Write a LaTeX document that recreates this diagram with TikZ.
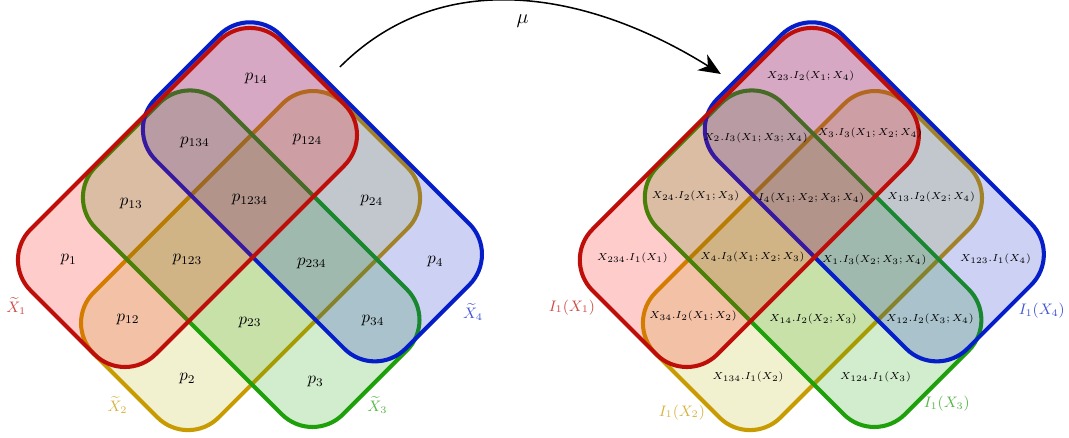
\documentclass[tikz,border=0pt]{standalone}
\usepackage{amsmath,amssymb}
\usetikzlibrary{positioning, arrows.meta}

\definecolor{redline}{RGB}{190,14,10}
\definecolor{yellowline}{RGB}{200,155,0}
\definecolor{yellowfill}{RGB}{185,185,20}
\definecolor{greenline}{RGB}{30,160,10}
\definecolor{blueline}{RGB}{5,30,200}

\begin{document}
\begin{tikzpicture}[
			set/.style={line width=2.4pt, rounded corners=0.9cm, fill opacity=0.2},
			cell/.style={font=\normalsize, inner sep=1pt},
			info/.style={font=\fontsize{6.3}{7.5}\selectfont, inner sep=1pt},
			setlbl/.style={font=\small, inner sep=1pt}]
		\useasboundingbox (0,0) rectangle (22.24,9.11);
		\begin{scope}[shift={(0,3.702)}, rotate=-45, scale=1.8385]
			\draw[set, draw=yellowline, fill=yellowfill] (1.01,0) rectangle (3.01,4);
			\draw[set, draw=greenline, fill=greenline] (0.02,1.02) rectangle (3.98,3.02);
			\draw[set, draw=blueline, fill=blueline] (-0.045,2.045) rectangle (3.955,4.045);
			\draw[set, draw=redline, fill=red] (0,0) rectangle (2,4);
			\node[cell] (p1) at (0.55,0.55) {$p_1$};
			\node[cell] (p12) at (1.5,0.55) {$p_{12}$};
			\node[cell] (p2) at (2.45,0.55) {$p_2$};
			\node[cell] (p13) at (0.6,1.5) {$p_{13}$};
			\node[cell] (p123) at (1.5,1.5) {$p_{123}$};
			\node[cell] (p23) at (2.5,1.5) {$p_{23}$};
			\node[cell] (p3) at (3.5,1.55) {$p_3$};
			\node[cell] (p134) at (0.62,2.5) {$p_{134}$};
			\node[cell] (p1234) at (1.52,2.48) {$p_{1234}$};
			\node[cell] (p234) at (2.52,2.47) {$p_{234}$};
			\node[cell] (p34) at (3.47,2.5) {$p_{34}$};
			\node[cell] (p14) at (0.6,3.5) {$p_{14}$};
			\node[cell] (p124) at (1.5,3.42) {$p_{124}$};
			\node[cell] (p24) at (2.5,3.45) {$p_{24}$};
			\node[cell] (p4) at (3.5,3.47) {$p_4$};
			\node[setlbl, text=redline!75] (xt1) at (0.5,-0.24) {$\widetilde{X}_1$};
			\node[setlbl, text=yellowline!75] (xt2) at (2.1,-0.22) {$\widetilde{X}_2$};
			\node[setlbl, text=greenline!75] (xt3) at (4.18,1.86) {$\widetilde{X}_3$};
			\node[setlbl, text=blueline!75] (xt4) at (4.2,3.37) {$\widetilde{X}_4$};
		\end{scope}
		\begin{scope}[shift={(11.69,3.702)}, rotate=-45, scale=1.8385]
			\draw[set, draw=yellowline, fill=yellowfill] (1.01,0) rectangle (3.01,4);
			\draw[set, draw=greenline, fill=greenline] (0.02,1.02) rectangle (3.98,3.02);
			\draw[set, draw=blueline, fill=blueline] (-0.045,2.045) rectangle (3.955,4.045);
			\draw[set, draw=redline, fill=red] (0,0) rectangle (2,4);
			\node[info] (i1) at (0.55,0.58) {$X_{234}.I_1(X_1)$};
			\node[info] (i12) at (1.5,0.6) {$X_{34}.I_2(X_1;X_2)$};
			\node[info] (i2) at (2.43,0.55) {$X_{134}.I_1(X_2)$};
			\node[info] (i13) at (0.56,1.58) {$X_{24}.I_2(X_1;X_3)$};
			\node[info] (i123) at (1.5,1.55) {$X_4.I_3(X_1;X_2;X_3)$};
			\node[info] (i23) at (2.48,1.54) {$X_{14}.I_2(X_2;X_3)$};
			\node[info] (i3) at (3.45,1.57) {$X_{124}.I_1(X_3)$};
			\node[info] (i134) at (0.57,2.53) {$X_2.I_3(X_1;X_3;X_4)$};
			\node[info] (i1234) at (1.5,2.49) {$I_4(X_1;X_2;X_3;X_4)$};
			\node[info] (i234) at (2.5,2.5) {$X_1.I_3(X_2;X_3;X_4)$};
			\node[info] (i34) at (3.42,2.47) {$X_{12}.I_2(X_3;X_4)$};
			\node[info] (i14) at (0.52,3.46) {$X_{23}.I_2(X_1;X_4)$};
			\node[info] (i124) at (1.45,3.48) {$X_3.I_3(X_1;X_2;X_4)$};
			\node[info] (i24) at (2.45,3.46) {$X_{13}.I_2(X_2;X_4)$};
			\node[info] (i4) at (3.46,3.48) {$X_{123}.I_1(X_4)$};
			\node[setlbl, text=redline!75] (ix1) at (0.46,-0.3) {$I_1(X_1)$};
			\node[setlbl, text=yellowline!75] (ix2) at (2.18,-0.26) {$I_1(X_2)$};
			\node[setlbl, text=greenline!75] (ix3) at (4.23,1.93) {$I_1(X_3)$};
			\node[setlbl, text=blueline!75] (ix4) at (4.25,3.43) {$I_1(X_4)$};
		\end{scope}
		\coordinate (mustart) at (7.072,7.717);
		\coordinate (muend) at (14.997,7.571);
		\draw[line width=0.9pt, -{Stealth[length=13pt, width=11pt, inset=4pt]}] (mustart) to[out=45, in=148] node[midway, below=4pt, font=\large] (mu) {$\mu$} (muend);
	\end{tikzpicture}
\end{document}
